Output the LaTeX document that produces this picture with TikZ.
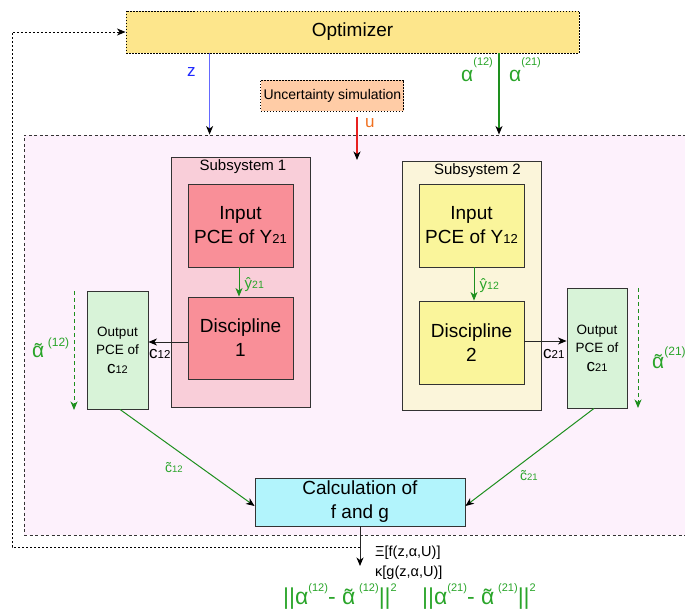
\documentclass[tikz,border=0pt]{standalone}
\usepackage{fontspec}
\setmainfont{Liberation Sans}
\usetikzlibrary{arrows.meta}
\definecolor{optfill}{HTML}{FDE68C}
\definecolor{uncfill}{HTML}{FFCCA6}
\definecolor{regfill}{HTML}{FDF1FC}
\definecolor{sub1fill}{HTML}{F9CED9}
\definecolor{redbox}{HTML}{F98F98}
\definecolor{sub2fill}{HTML}{FBF5DA}
\definecolor{yelbox}{HTML}{FAF59B}
\definecolor{outfill}{HTML}{D8F3D8}
\definecolor{calcfill}{HTML}{B2F4FC}
\definecolor{boxline}{HTML}{333333}
\definecolor{lgreen}{HTML}{1E8F1E}
\definecolor{tgreen}{HTML}{2AA52A}
\definecolor{myblueline}{RGB}{100,105,255}
\definecolor{mybluetext}{RGB}{30,40,255}
\definecolor{ured}{HTML}{E82020}
\definecolor{uorange}{HTML}{F07020}
\newcommand\fs[2]{\fontsize{#1}{#2}\selectfont}
\newcommand\sups[3]{\raisebox{#1pt}{\fs{#2}{#2}#3}}
\newcommand\tld[1]{{\ooalign{#1\cr\hidewidth\raisebox{-0.07em}{\char"02DC}\hidewidth\cr}}}
\tikzset{
  blk/.tip={Stealth[length=8.5pt,width=7pt,inset=2.5pt,color=black]},
  grn/.tip={Stealth[length=8.5pt,width=7pt,inset=2.5pt,color=lgreen]},
  box/.style={draw=boxline, line width=0.9pt, inner sep=0pt, align=center},
  bigtext/.style={font=\fs{19}{24}},
  outtext/.style={font=\fs{13.5}{18}},
  lbl/.style={inner sep=0pt, anchor=base west},
  ln/.style={line width=1pt},
}
\begin{document}
\begin{tikzpicture}[x=1pt,y=-1pt]
\useasboundingbox (0,0) rectangle (685,612);

% coordinates
\coordinate (zcol) at (209.6,0);
\coordinate (acol) at (499,0);
\coordinate (us) at (357,117);
\coordinate (ue) at (357,160);
\coordinate (y1x) at (239,0);
\coordinate (y2x) at (474,0);
\coordinate (c1y) at (0,342);
\coordinate (c2y) at (0,341);
\coordinate (dl1) at (74,291);
\coordinate (dl2) at (74,410);
\coordinate (dr1) at (638,288);
\coordinate (dr2) at (638,408);
\coordinate (g1x) at (120,0);
\coordinate (g2x) at (594,0);
\coordinate (gy) at (0,506);
\coordinate (calcend) at (360,566);
\coordinate (fbstart) at (360,547);
\coordinate (fbcorner) at (12,300);

% background region
\node[draw=black!80, line width=0.9pt, dash pattern=on 3pt off 2.5pt, fill=regfill,
      minimum width=670, minimum height=400, inner sep=0pt] (region) at (359,335) {};

% optimizer and uncertainty
\node[box, draw=black, dash pattern=on 1.5pt off 1.5pt, fill=optfill,
      minimum width=453, minimum height=42, font=\fs{19}{23}] (opt) at (352.5,32) {Optimizer};
\node[box, draw=black, dash pattern=on 1.5pt off 1.5pt, fill=uncfill,
      minimum width=143, minimum height=31, font=\fs{14}{16}] (unc) at (332.4,95.5) {Uncertainty simulation};

% feedback loop
\draw[line width=0.9pt, dash pattern=on 2pt off 2pt, -{blk}] (fbstart) -| (fbcorner) |- (opt.west);

% subsystem 1
\node[box, fill=sub1fill, minimum width=139, minimum height=250] (sub1) at (241,282) {};
\node[inner sep=0pt, font=\fs{15}{18}] (sub1t) at (243,167) {Subsystem 1};
\node[box, bigtext, fill=redbox, minimum width=105, minimum height=83] (in1) at (240.5,225.5)
  {Input\\PCE of Y{\fs{13}{13}21}};
\node[box, bigtext, fill=redbox, minimum width=105, minimum height=82] (d1) at (240.5,338)
  {Discipline\\1};

% subsystem 2
\node[box, fill=sub2fill, minimum width=139, minimum height=249] (sub2) at (471.5,285.5) {};
\node[inner sep=0pt, font=\fs{15}{18}] (sub2t) at (477.5,171) {Subsystem 2};
\node[box, bigtext, fill=yelbox, minimum width=105, minimum height=83] (in2) at (471.5,225.5)
  {Input\\PCE of Y{\fs{13}{13}12}};
\node[box, bigtext, fill=yelbox, minimum width=105, minimum height=83] (d2) at (471.5,342.5)
  {Discipline\\2};

% output boxes
\node[box, outtext, fill=outfill, minimum width=61, minimum height=118] (out1) at (117.5,350)
  {Output\\PCE of\\[1pt]{\fs{17}{17}c}{\fs{11}{11}12}};
\node[box, outtext, fill=outfill, minimum width=60, minimum height=120] (out2) at (597,348)
  {Output\\PCE of\\[1pt]{\fs{17}{17}c}{\fs{11}{11}21}};

% calculation
\node[box, bigtext, fill=calcfill, minimum width=210, minimum height=48] (calc) at (360,502)
  {Calculation of\\f and g};

% top arrows
\draw[line width=1.3pt, color=myblueline, -{blk}] (opt.south -| zcol) -- (region.north -| zcol);
\draw[line width=1.2pt, color=lgreen, -{blk}] (opt.south -| acol) -- (region.north -| acol);
\draw[line width=1.1pt, color=ured, -{blk}] (us) -- (ue);
\node[lbl, text=mybluetext, font=\fs{17}{17}] (zl) at (187,77) {z};
\node[lbl, text=uorange, font=\fs{17}{17}] (ul) at (365,128) {u};
\node[lbl, text=tgreen, font=\fs{21}{21}] (a12) at (461,82) {α\sups{16}{11}{(12)}};
\node[lbl, text=tgreen, font=\fs{21}{21}] (a21) at (509,82) {α\sups{16}{11}{(21)}};

% y-hat arrows
\draw[ln, lgreen, -{grn}] (in1.south -| y1x) -- (d1.north -| y1x);
\draw[ln, lgreen, -{grn}] (in2.south -| y2x) -- (d2.north -| y2x);
\node[lbl, text=tgreen, font=\fs{15}{15}] (yh21) at (244.5,288) {ŷ{\fs{10.5}{10.5}21}};
\node[lbl, text=tgreen, font=\fs{15}{15}] (yh12) at (479.5,289) {ŷ{\fs{10.5}{10.5}12}};

% discipline to output
\draw[ln, black!85, -{blk}] (d1.west |- c1y) -- (out1.east |- c1y);
\draw[ln, black!85, -{blk}] (d2.east |- c2y) -- (out2.west |- c2y);
\node[lbl, font=\fs{17}{17}] (c12l) at (149,358) {c{\fs{11.5}{11.5}12}};
\node[lbl, font=\fs{17}{17}] (c21l) at (543,358) {c{\fs{11.5}{11.5}21}};

% dashed alpha tilde arrows
\draw[ln, lgreen, dash pattern=on 4pt off 3pt, -{grn}] (dl1) -- (dl2);
\draw[ln, lgreen, dash pattern=on 4pt off 3pt, -{grn}] (dr1) -- (dr2);
\node[lbl, text=tgreen, font=\fs{21}{21}] (at12) at (32,357) {\tld{α}\,\sups{11}{12}{(12)}};
\node[lbl, text=tgreen, font=\fs{21}{21}] (at21) at (652,368) {\tld{α}\sups{13}{12}{(21)}};

% outputs to calculation
\draw[ln, lgreen, -{blk}] (out1.south -| g1x) -- (calc.west |- gy);
\draw[ln, lgreen, -{blk}] (out2.south -| g2x) -- (calc.east |- gy);
\node[lbl, text=tgreen, font=\fs{14}{14}] (ct12) at (165,472) {\tld{c}{\fs{9.5}{9.5}12}};
\node[lbl, text=tgreen, font=\fs{14}{14}] (ct21) at (520,480) {\tld{c}{\fs{9.5}{9.5}21}};

% output of calculation
\draw[ln, black!85, -{blk}] (calc.south) -- (calcend);
\node[lbl, font=\fs{14.5}{14.5}] (xil) at (375,556) {Ξ[f(z,α,U)]};
\node[lbl, font=\fs{14.5}{14.5}] (kal) at (375,576) {κ[g(z,α,U)]};

% bottom formulas
\node[lbl, text=tgreen, font=\fs{23}{23}] (f1) at (283,604)
  {||α\sups{13}{11}{(12)}- \tld{α}\,\sups{13}{11}{(12)}||\sups{13}{11}{2}};
\node[lbl, text=tgreen, font=\fs{23}{23}] (f2) at (422,604)
  {||α\sups{13}{11}{(21)}- \tld{α}\,\sups{13}{11}{(21)}||\sups{13}{11}{2}};
\end{tikzpicture}
\end{document}
